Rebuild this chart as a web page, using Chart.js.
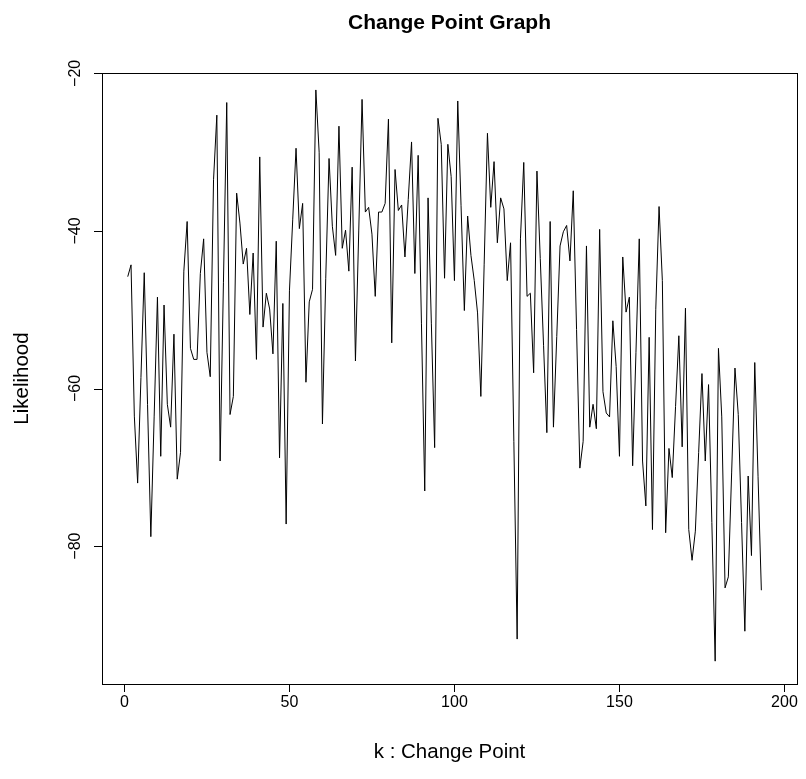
<!DOCTYPE html>
<html>
<head>
  <meta charset="UTF-8" />
  <title>Change Point Graph</title>
  <script src="https://cdn.jsdelivr.net/npm/chart.js"></script>
  <style>
    body { margin: 0; background: #fff; }
  </style>
</head>
<body>
  <canvas id="cpChart" width="806" height="779"></canvas>

  <script>
    // change point index k and the likelihood at each k
    const likelihood = [
      -45.8, -44.3, -63.5, -72.0, -58.6, -45.3, -62.0, -78.8, -63.6, -48.4,
      -68.6, -49.4, -62.0, -64.9, -53.1, -71.5, -68.1, -45.1, -38.8, -54.9,
      -56.3, -56.3, -45.4, -41.0, -55.4, -58.5, -33.5, -25.3, -69.2, -46.5,
      -23.7, -63.3, -61.0, -35.2, -39.0, -44.2, -42.2, -50.6, -42.8, -56.3,
      -30.6, -52.2, -47.9, -49.9, -55.6, -41.3, -68.8, -49.2, -77.2, -47.6,
      -38.5, -29.5, -39.7, -36.5, -59.2, -49.0, -47.4, -22.1, -30.0, -64.5,
      -46.0, -30.8, -39.4, -43.1, -26.7, -42.2, -39.9, -45.1, -31.9, -56.5,
      -40.0, -23.3, -37.6, -37.0, -40.4, -48.3, -37.6, -37.6, -36.5, -25.8,
      -54.2, -32.2, -37.4, -36.7, -43.3, -36.0, -28.7, -45.4, -30.4, -51.7,
      -73.0, -35.8, -51.7, -67.5, -25.7, -29.0, -46.0, -29.0, -33.1, -46.3,
      -23.5, -36.8, -50.1, -38.1, -43.1, -46.3, -50.4, -61.0, -44.3, -27.6,
      -37.0, -31.2, -41.5, -35.8, -37.2, -46.3, -41.5, -66.7, -91.8, -41.0,
      -31.3, -48.3, -47.9, -58.0, -32.4, -43.5, -54.5, -65.6, -38.8, -64.9,
      -53.4, -41.9, -40.1, -39.3, -43.8, -34.9, -52.5, -70.1, -66.7, -41.9,
      -64.9, -62.0, -65.1, -39.8, -60.4, -63.1, -63.6, -51.4, -57.2, -68.6,
      -43.3, -50.3, -48.4, -69.8, -55.4, -41.0, -69.2, -74.9, -53.5, -77.9,
      -50.0, -36.9, -46.3, -78.3, -67.6, -71.3, -62.3, -53.3, -67.4, -49.8,
      -77.9, -81.8, -78.1, -68.1, -58.1, -69.2, -59.5, -77.0, -94.6, -54.9,
      -63.6, -85.3, -83.9, -70.6, -57.4, -63.3, -77.0, -90.8, -71.1, -81.2,
      -56.7, -71.2, -85.6
    ];
    const k = likelihood.map((v, i) => i + 1);

    const xTicks = [0, 50, 100, 150, 200];
    const yTicks = [-20, -40, -60, -80];

    // axis limits as in the original plot window
    const xLim = [-6.8, 203.8];
    const yLim = [-97.5, -19.95];

    const mainTitle = 'Change Point Graph';
    const xTitle = 'k : Change Point';
    const yTitle = 'Likelihood';

    const FONT = '"Liberation Sans", Arial, Helvetica, sans-serif';

    // box, ticks and labels drawn the way base R graphics does it
    const rAxes = {
      id: 'rAxes',
      afterDraw(chart) {
        const ctx = chart.ctx;
        const a = chart.chartArea;
        const xs = chart.scales.x, ys = chart.scales.y;
        ctx.save();
        ctx.strokeStyle = '#000';
        ctx.fillStyle = '#000';
        ctx.lineWidth = 1;

        ctx.strokeRect(a.left + 0.5, a.top + 0.5, a.right - a.left, a.bottom - a.top);

        // x axis
        ctx.beginPath();
        xTicks.forEach(t => {
          const px = Math.round(xs.getPixelForValue(t)) + 0.5;
          ctx.moveTo(px, a.bottom);
          ctx.lineTo(px, a.bottom + 8);
        });
        ctx.stroke();
        ctx.font = '16px ' + FONT;
        ctx.textAlign = 'center';
        ctx.textBaseline = 'middle';
        xTicks.forEach(t => {
          ctx.fillText(String(t), xs.getPixelForValue(t), a.bottom + 19);
        });

        // y axis
        ctx.beginPath();
        yTicks.forEach(t => {
          const py = Math.round(ys.getPixelForValue(t)) + 0.5;
          ctx.moveTo(a.left, py);
          ctx.lineTo(a.left - 8, py);
        });
        ctx.stroke();
        yTicks.forEach(t => {
          ctx.save();
          ctx.translate(a.left - 26, ys.getPixelForValue(t));
          ctx.rotate(-Math.PI / 2);
          ctx.fillText(String(t).replace('-', '\u2212'), 0, 0);
          ctx.restore();
        });

        // titles
        const cx = (a.left + a.right) / 2;
        ctx.font = 'bold 21px ' + FONT;
        ctx.fillText(mainTitle, cx, 23);
        ctx.font = '20.5px ' + FONT;
        ctx.fillText(xTitle, cx, 752);
        ctx.save();
        ctx.translate(22, (a.top + a.bottom) / 2);
        ctx.rotate(-Math.PI / 2);
        ctx.fillText(yTitle, 0, 0);
        ctx.restore();

        ctx.restore();
      }
    };

    new Chart(document.getElementById('cpChart').getContext('2d'), {
      type: 'line',
      data: {
        datasets: [{
          data: k.map((x, i) => ({ x: x, y: likelihood[i] })),
          borderColor: '#000',
          borderWidth: 1,
          pointRadius: 0,
          fill: false,
          tension: 0
        }]
      },
      options: {
        responsive: false,
        animation: false,
        layout: { padding: { left: 102, top: 73, right: 9, bottom: 95 } },
        plugins: { legend: { display: false }, tooltip: { enabled: false } },
        scales: {
          x: { type: 'linear', display: false, min: xLim[0], max: xLim[1] },
          y: { type: 'linear', display: false, min: yLim[0], max: yLim[1] }
        }
      },
      plugins: [rAxes]
    });
  </script>
</body>
</html>
